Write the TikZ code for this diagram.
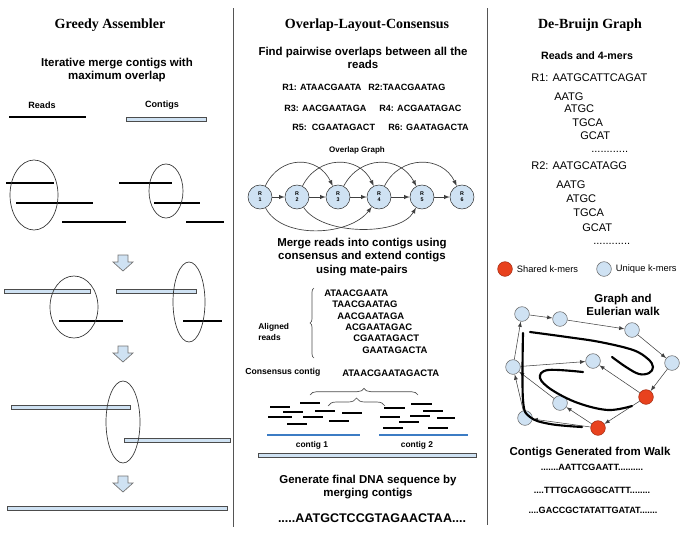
\documentclass[tikz,border=0pt]{standalone}
\usepackage{fontspec}
\setmainfont{Liberation Sans}
\newfontfamily\titlefont{Liberation Serif}
\usetikzlibrary{positioning, calc, arrows.meta, decorations.pathreplacing}

\definecolor{kmerblue}{HTML}{CFE2F3}
\definecolor{kmerred}{HTML}{E8421E}
\definecolor{contigblue}{HTML}{3C7CC4}
\definecolor{rulegray}{HTML}{555555}

\tikzset{
    paneltitle/.style={inner sep=0pt, font=\titlefont\bfseries\fontsize{10.5}{12}\selectfont},
    headtext/.style={inner sep=0pt, align=center, font=\bfseries\fontsize{8.6}{10}\selectfont},
    captext/.style={inner sep=0pt, font=\bfseries\fontsize{6.8}{8}\selectfont},
    seqtext/.style={inner sep=0pt, font=\bfseries\fontsize{7.1}{8}\selectfont},
    kmertext/.style={inner sep=0pt, font=\fontsize{8.3}{10}\selectfont},
    read/.style={line width=1.8pt},
    shortread/.style={line width=1.4pt},
    contig/.style={draw=black!70, fill=kmerblue, line width=0.5pt},
    mergering/.style={draw=black!80, line width=0.5pt},
    blockarrow/.style={draw=black!55, fill=kmerblue, line width=0.5pt},
    rnode/.style={circle, draw=black!80, fill=kmerblue, minimum size=18pt,
        inner sep=0pt, align=center, font=\bfseries\fontsize{4}{4.4}\selectfont},
    knode/.style={circle, draw=black!60, fill=kmerblue, minimum size=11pt, inner sep=0pt},
    shared/.style={knode, fill=kmerred, draw=kmerred!70!black},
    edge/.style={-latex, draw=black!75, line width=0.5pt},
    walk/.style={line width=1.6pt, line cap=round},
}

\begin{document}
\begin{tikzpicture}[x=0.75pt, y=-0.75pt]
\useasboundingbox (0,0) rectangle (688,533);

% panel rules
\draw[rulegray, line width=0.6pt] (233,8) -- (233,527);
\draw[rulegray, line width=0.6pt] (487,8) -- (487,525);

% greedy assembler
\node[paneltitle] (greedy) at (110,25) {Greedy Assembler};
\node[headtext] (iter) at (117,70) {Iterative merge contigs with\\maximum overlap};
\node[captext] (readkey) at (42,105) {Reads};
\node[captext] (contigkey) at (162,105) {Contigs};

\foreach \xa/\xb/\yy in {126/206/119, 4/90/291, 116/196/291, 11/130/407,
        124/230/440, 7/227/508, 258/476/455}
    \draw[contig] (\xa,\yy-2) rectangle (\xb,\yy+2);

\foreach \xa/\xb/\yy in {9/86/117, 6/54/183, 16/93/203, 62/126/222,
        119/172/183, 154/200/203, 186/224/222, 59/123/321, 183/222/321}
    \draw[read] (\xa,\yy) -- (\xb,\yy);

\foreach \cx/\cy/\rx/\ry in {34/195/24/35, 166/191/17/27, 74/307/24/31,
        189/302/16/40, 123/422/17/41}
    \draw[mergering] (\cx,\cy) ellipse [x radius=\rx, y radius=\ry];

\foreach \ay in {255,346,476}
    \draw[blockarrow] (118,\ay) -- ++(10,0) -- ++(0,7) -- ++(5,0)
        -- ++(-10,9) -- ++(-10,-9) -- ++(5,0) -- cycle;

% overlap-layout-consensus
\node[paneltitle] (olc) at (367,25) {Overlap-Layout-Consensus};
\node[headtext] (pairwise) at (363,58) {Find pairwise overlaps between all the\\reads};

\node[captext, anchor=west] (r1) at (282,87) {R1: ATAACGAATA};
\node[captext, anchor=west] (r2) at (368,87) {R2:TAACGAATAG};
\node[captext, anchor=west] (r3) at (284,108) {R3: AACGAATAGA};
\node[captext, anchor=west] (r4) at (379,108) {R4: ACGAATAGAC};
\node[captext, anchor=west] (r5) at (292,127) {R5:\ \ CGAATAGACT};
\node[captext, anchor=west] (r6) at (388,127) {R6: GAATAGACTA};

\node[captext, font=\bfseries\fontsize{6}{7}\selectfont] (ograph) at (357,150) {Overlap Graph};
\foreach \n/\x in {1/260, 2/297, 3/338, 4/379, 5/422, 6/462}
    \node[rnode] (R\n) at (\x,197) {R\\\n};
\foreach \a/\b in {1/2, 2/3, 3/4, 4/5, 5/6}
    \draw[edge] (R\a) -- (R\b);
\draw[edge] (R1) .. controls (280,155) and (318,155) .. (R3);
\draw[edge] (R2) .. controls (318,155) and (359,155) .. (R4);
\draw[edge] (R3) .. controls (360,155) and (400,155) .. (R5);
\draw[edge] (R4) .. controls (400,155) and (442,155) .. (R6);
\draw[edge] (R1) .. controls (282,240) and (350,236) .. (R4);
\draw[edge] (R2) .. controls (322,236) and (400,236) .. (R5);

\node[headtext] (merge) at (362,257) {Merge reads into contigs using\\consensus and extend contigs\\using mate-pairs};

\foreach \s/\x/\y [count=\i] in {ATAACGAATA/324/293, TAACGAATAG/332/304,
        AACGAATAGA/337/316, ACGAATAGAC/345/327, CGAATAGACT/353/338, GAATAGACTA/362/350}
    \node[seqtext, anchor=west] (al\i) at (\x,\y) {\s};
\draw[black!70, line width=0.5pt, decorate, decoration={brace, amplitude=3pt}]
    (314,358) -- (314,288);
\node[captext, font=\bfseries\fontsize{6.3}{7.6}\selectfont, align=left, anchor=west] (aligned) at (258,332) {Aligned\\reads};

\node[captext, font=\bfseries\fontsize{6.5}{8}\selectfont, anchor=west] (cons) at (245,372) {Consensus contig};
\node[seqtext, anchor=west] (conseq) at (342,373) {ATAACGAATAGACTA};

\draw[black!70, line width=0.5pt, decorate, decoration={brace, amplitude=5pt}]
    (310,395) -- (418,395);
\draw[black!70, line width=0.5pt, decorate, decoration={brace, amplitude=6pt}]
    (328,406) -- (385,406);

\foreach \xa/\xb/\yy in {270/290/407, 300/320/403, 283/303/412, 315/335/411,
        342/362/413, 268/292/417, 303/323/417, 329/349/421, 287/307/424,
        384/405/408, 411/432/404, 423/443/411, 380/400/417, 410/430/416,
        437/455/418, 399/419/422, 383/403/428, 428/448/428}
    \draw[shortread] (\xa,\yy) -- (\xb,\yy);

\draw[contigblue, line width=2pt] (267,435) -- (360,435);
\draw[contigblue, line width=2pt] (379,435) -- (468,435);
\node[captext, font=\bfseries\fontsize{6.3}{7}\selectfont] (c1) at (312,445) {contig 1};
\node[captext, font=\bfseries\fontsize{6.3}{7}\selectfont] (c2) at (417,445) {contig 2};

\node[headtext] (final) at (368,487) {Generate final DNA sequence by\\merging contigs};
\node[seqtext, font=\bfseries\fontsize{9.4}{11}\selectfont] (dna) at (372,518) {.....AATGCTCCGTAGAACTAA....};

% de-bruijn graph
\node[paneltitle] (dbg) at (590,25) {De-Bruijn Graph};
\node[headtext, font=\bfseries\fontsize{8}{9}\selectfont] (kmers) at (587,56) {Reads and 4-mers};

\node[kmertext, anchor=west] (read1) at (531,78) {R1: AATGCATTCAGAT};
\node[kmertext, anchor=west] (read2) at (531,166) {R2: AATGCATAGG};
\foreach \s/\x/\y [count=\i] in {AATG/554/97, ATGC/564/109, TGCA/572/123, GCAT/580/136,
        AATG/556/185, ATGC/566/199, TGCA/573/213, GCAT/582/228}
    \node[kmertext, anchor=west] (km\i) at (\x,\y) {\s};
\node[kmertext, anchor=west] (dots1) at (591,152) {............};
\node[kmertext, anchor=west] (dots2) at (593,244) {............};

\node[shared] (legshared) at (505,269) {};
\node[kmertext, font=\fontsize{7}{8}\selectfont, right=3pt of legshared] (legsharedtext) {Shared k-mers};
\node[knode] (legunique) at (604,269) {};
\node[kmertext, font=\fontsize{7}{8}\selectfont, right=3pt of legunique] (leguniquetext) {Unique k-mers};

\node[headtext] (euler) at (623,305) {Graph and\\Eulerian walk};

\node[knode] (kA) at (522,314) {};
\node[knode] (kB) at (560,319) {};
\node[knode] (kC) at (632,330) {};
\node[knode] (kD) at (672,363) {};
\node[shared] (kE) at (646,397) {};
\node[shared] (kF) at (598,428) {};
\node[knode] (kG) at (525,418) {};
\node[knode] (kH) at (560,403) {};
\node[knode] (kI) at (513,367) {};
\node[knode] (kJ) at (593,361) {};

\foreach \a/\b in {A/B, B/C, C/D, D/E, E/F, F/H, F/G, E/J, G/I, I/A, I/J, H/I}
    \draw[edge, line width=0.4pt] (k\a) -- (k\b);

\draw[walk] plot[smooth, tension=0.6] coordinates {(530,332) (567,337) (600,342)
    (633,350) (648,359) (653,367) (649,373) (639,374) (626,367) (612,357)};
\draw[walk] plot[smooth, tension=0.6] coordinates {(523,333) (523,400) (530,417)
    (550,424) (582,427)};
\draw[walk] plot[smooth, tension=0.6] coordinates {(583,372) (548,370) (540,378)
    (552,390) (578,403) (608,410) (632,406)};

\node[headtext] (walkcontigs) at (590,453) {Contigs Generated from Walk};
\node[captext] (wc1) at (592,467) {.......AATTCGAATT..........};
\node[captext] (wc2) at (592,490) {....TTTGCAGGGCATTT........};
\node[captext] (wc3) at (593,510) {....GACCGCTATATTGATAT.......};

\end{tikzpicture}
\end{document}
